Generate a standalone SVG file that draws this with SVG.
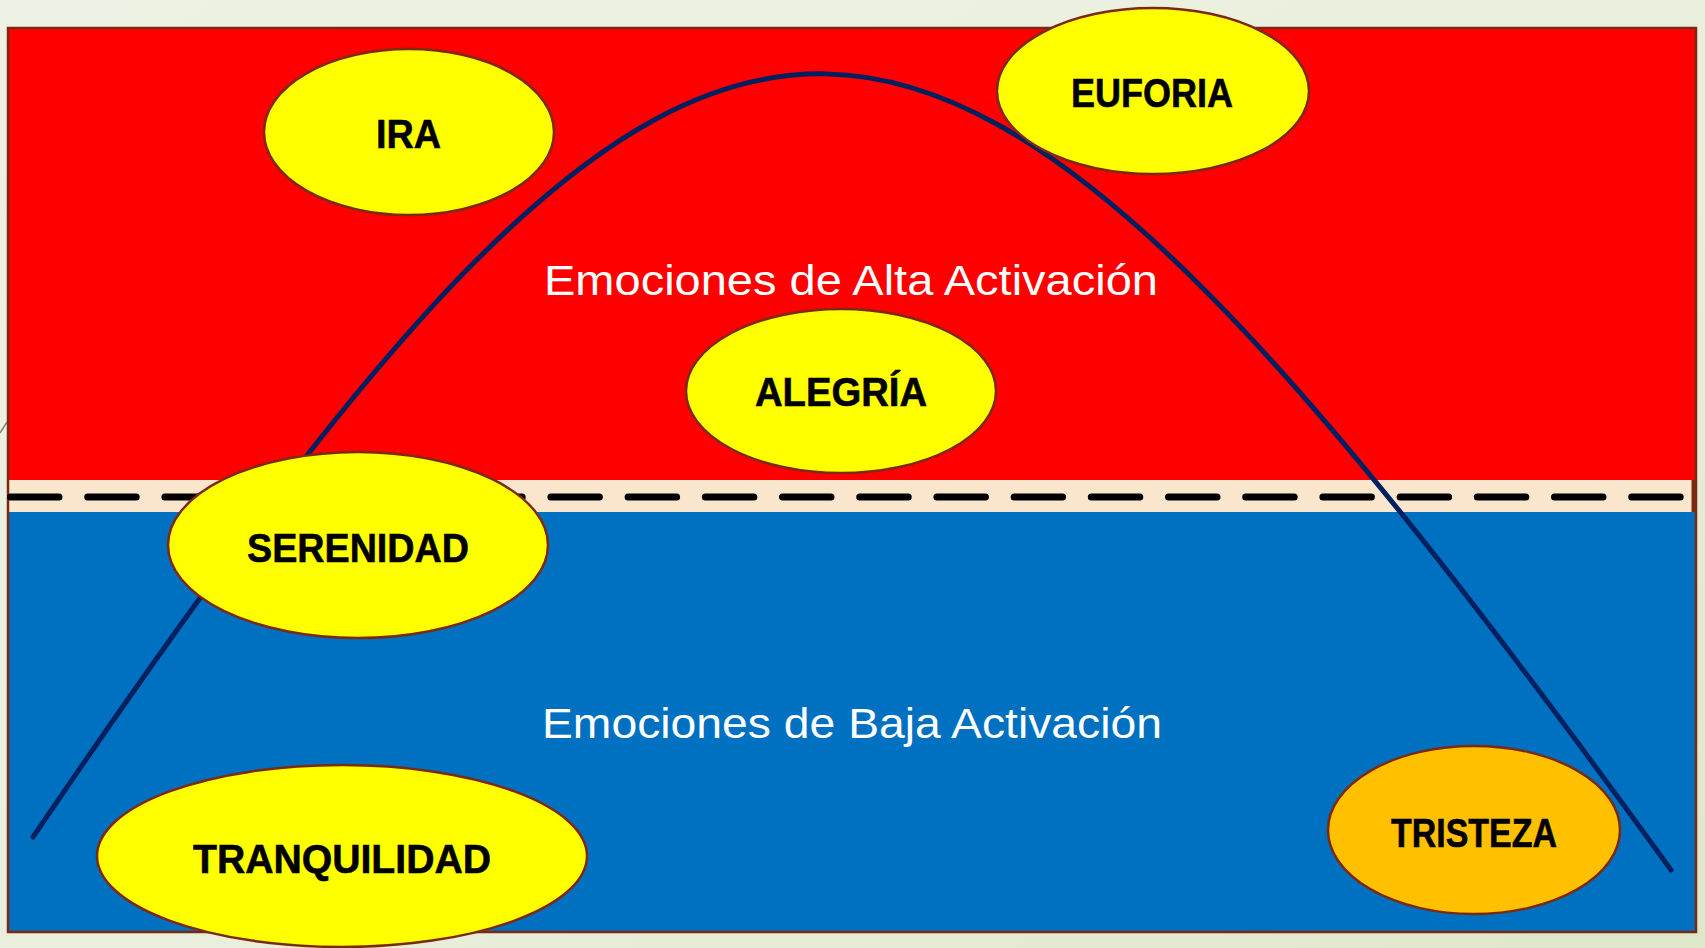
<svg xmlns="http://www.w3.org/2000/svg" width="1705" height="948" viewBox="0 0 1705 948">
  <defs>
    <linearGradient id="bg" x1="0" y1="0" x2="1" y2="1">
      <stop offset="0" stop-color="#EEF2E4"/>
      <stop offset="0.6" stop-color="#E9EEDB"/>
      <stop offset="1" stop-color="#DFE7C9"/>
    </linearGradient>
    <style>
      .node ellipse { stroke: #7B2A10; stroke-width: 2.5; }
      .yellow { fill: #FFFF00; }
      .orange { fill: #FFC000; }
      .lbl { font-family: "Liberation Sans", Arial, sans-serif; font-weight: bold; font-size: 41px; fill: #000000; stroke: #000000; stroke-width: 0.6; }
      .region { font-family: "Liberation Sans", Arial, sans-serif; font-size: 43px; fill: #FFFFFF; }
    </style>
  </defs>

  <rect x="0" y="0" width="1705" height="948" fill="url(#bg)"/>
  <line x1="0" y1="433" x2="7" y2="422" stroke="#8A8070" stroke-width="1.5"/>

  <g id="zones">
    <rect x="8" y="28" width="1688" height="452" fill="#FF0000"/>
    <rect x="8" y="480" width="1688" height="32" fill="#FAE5CD"/>
    <rect x="8" y="512" width="1688" height="420" fill="#0070C0"/>
    <rect x="8" y="28" width="1688" height="904" fill="none" stroke="#7B2A10" stroke-width="2.5"/>
    <line x1="1693.5" y1="480" x2="1693.5" y2="512" stroke="#7B2A10" stroke-width="4"/>
  </g>

  <g id="connectors">
    <line id="divider" x1="10.5" y1="497" x2="1690" y2="497" stroke="#000000" stroke-width="7" stroke-linecap="round" stroke-dasharray="48.5 28.7"/>
    <path id="curve" d="M33,837 C728,-186 906,-186 1671,870" fill="none" stroke="#002060" stroke-width="5" stroke-linecap="round"/>
  </g>

  <text class="region" x="544" y="295" textLength="614" lengthAdjust="spacingAndGlyphs">Emociones de Alta Activación</text>
  <text class="region" x="542" y="738" textLength="620" lengthAdjust="spacingAndGlyphs">Emociones de Baja Activación</text>

  <g id="ira" class="node">
    <ellipse class="yellow" cx="409" cy="132" rx="145" ry="83"/>
    <text class="lbl" x="376" y="148" textLength="65" lengthAdjust="spacingAndGlyphs">IRA</text>
  </g>
  <g id="euforia" class="node">
    <ellipse class="yellow" cx="1153" cy="91" rx="156" ry="83"/>
    <text class="lbl" x="1071" y="107" textLength="162" lengthAdjust="spacingAndGlyphs">EUFORIA</text>
  </g>
  <g id="alegria" class="node">
    <ellipse class="yellow" cx="841" cy="391" rx="155" ry="82"/>
    <text class="lbl" x="755" y="406" textLength="172" lengthAdjust="spacingAndGlyphs">ALEGRÍA</text>
  </g>
  <g id="serenidad" class="node">
    <ellipse class="yellow" cx="358" cy="545" rx="190" ry="93"/>
    <text class="lbl" x="247" y="562" textLength="222" lengthAdjust="spacingAndGlyphs">SERENIDAD</text>
  </g>
  <g id="tranquilidad" class="node">
    <ellipse class="yellow" cx="342" cy="856" rx="245" ry="91"/>
    <text class="lbl" x="193" y="873" textLength="298" lengthAdjust="spacingAndGlyphs">TRANQUILIDAD</text>
  </g>
  <g id="tristeza" class="node">
    <ellipse class="orange" cx="1474" cy="830" rx="146" ry="84"/>
    <text class="lbl" x="1391" y="847" textLength="166" lengthAdjust="spacingAndGlyphs">TRISTEZA</text>
  </g>
</svg>
